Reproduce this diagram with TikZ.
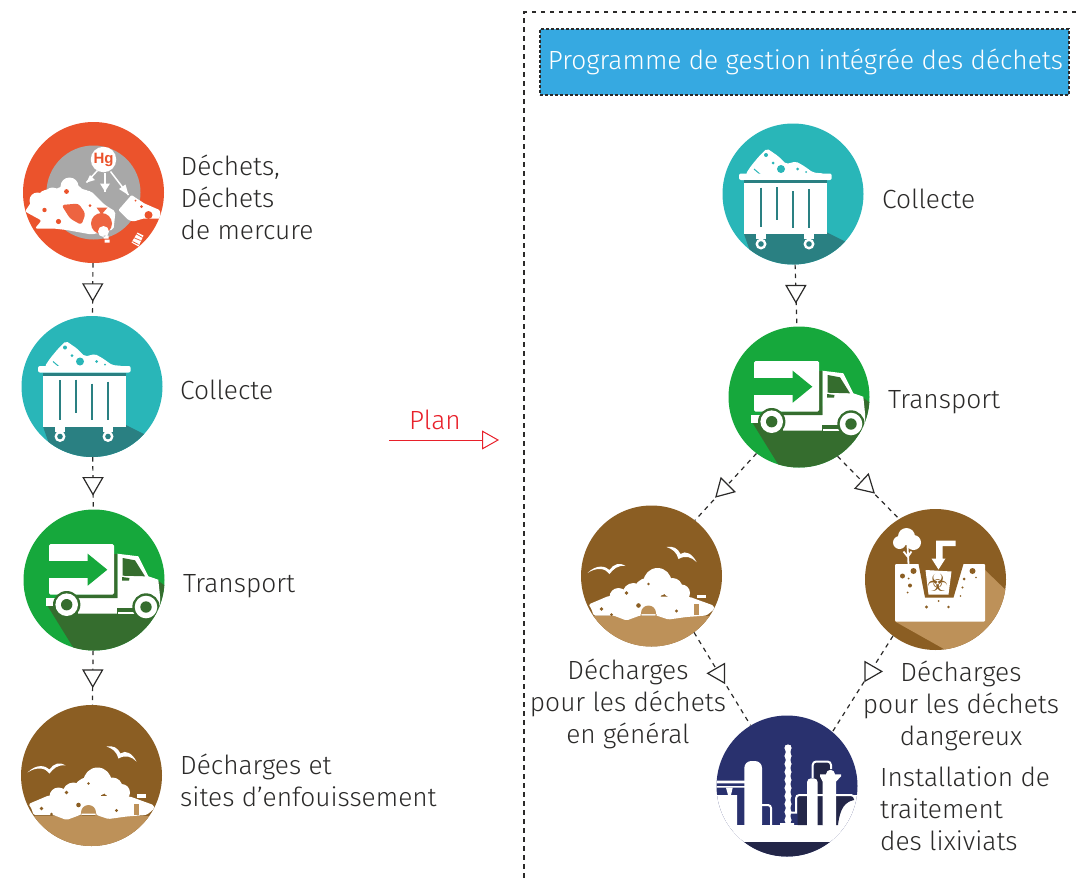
\documentclass[tikz,border=0pt]{standalone}
\usepackage{fontspec}
\setmainfont{Fira Sans}[UprightFont=* Light]
\newfontfamily\symbfont{DejaVu Sans}
\newfontfamily\hgfont{Liberation Sans}
\usetikzlibrary{arrows.meta,shapes.geometric}
\definecolor{ink}{HTML}{2B2A29}
\definecolor{mercred}{HTML}{EB532C}
\definecolor{mercgray}{HTML}{A8A8A8}
\definecolor{binteal}{HTML}{29B6B8}
\definecolor{bindark}{HTML}{2A8082}
\definecolor{truckgreen}{HTML}{16A83C}
\definecolor{truckdark}{HTML}{356D2E}
\definecolor{dumpbrown}{HTML}{8B5E23}
\definecolor{dumptan}{HTML}{BD9159}
\definecolor{plantnavy}{HTML}{29316E}
\definecolor{plantdark}{HTML}{232648}
\definecolor{titleblue}{HTML}{36A9E1}
\definecolor{planred}{HTML}{E8202A}
\tikzset{
  icon/.style={circle,minimum size=141pt,inner sep=0pt},
  lbl/.style={font=\fontsize{26.3}{32}\selectfont,text=ink,inner sep=0pt},
  flow/.style={draw=ink,line width=1.2pt,dash pattern=on 4.5pt off 4.5pt},
  tip/.style={regular polygon,regular polygon sides=3,minimum size=22.5pt,inner sep=0pt,draw=ink,fill=white,line width=1.2pt,solid},
  pics/binicon/.style={code={
    \clip (0,0) circle (70.5);
    \fill[bindark] (-49,40) -- (-42,60) -- (-30,90) -- (70,90) -- (53,48) -- (33,38) -- cycle;
    \fill[white,rounded corners=2pt] (-47,-20.5) -- (-42,-28) -- (-33.7,-38) -- (-26,-45.5) -- (-15,-38) -- (-7,-30) -- (3,-32.5) -- (11,-28) -- (20,-21.5) -- (31,-20.5) -- (31,-16) -- (-47,-16) -- cycle;
    \fill[binteal] (-12,-25) circle (4) (-27,-39) circle (2) (-20,-31) circle (1.5) (4.7,-25) circle (1.5) (13,-22) circle (1);
    \draw[binteal,line width=1pt] (-39,-25) -- (-32,-19);
    \fill[white,rounded corners=2pt] (-54,-20.5) rectangle (38.7,-14);
    \fill[white] (-48.7,-13) rectangle (34,40);
    \fill[bindark] (-48.7,-14) rectangle (34,-11);
    \foreach \xpos/\ytop/\ybot in {-31.7/-6.5/33,-16/-7/26,0/-3/33.5,16/-5/33.5}
      \draw[bindark,line width=2pt] (\xpos,\ytop) -- (\xpos,\ybot);
    \foreach \xpos in {-32,16} {
      \fill[white] (\xpos-5,40) rectangle (\xpos+5,45);
      \fill[white] (\xpos,50) circle (5.5);
      \fill[bindark] (\xpos,50) circle (2.8);
    }
  }},
  pics/truckicon/.style={code={
    \clip (0,0) circle (70.5);
    \fill[truckdark] (-47,25) -- (-18,72) -- (80,72) -- (80,12) -- (63,0) -- (20,10) -- cycle;
    \fill[white] (23.3,-26.3) -- (44.3,-23.7) -- (54.3,-3.7) -- (64.3,-0.3) -- (66,16) -- (66,30) -- (60,33.5) -- (-16,33.5) -- (-16,18) -- (23.3,18) -- cycle;
    \fill[white] (-48,18) rectangle (-39,26);
    \fill[truckdark] (-17,14.7) rectangle (23.3,18) (20,-26) rectangle (23.3,18);
    \fill[white,rounded corners=1.5pt] (-45,-36) rectangle (20,14.7);
    \fill[truckgreen] (-45,-18.7) rectangle (-6.3,-2);
    \fill[truckgreen] (-6.3,-26.3) -- (13.3,-10.3) -- (-6.3,5.7) -- cycle;
    \fill[truckdark] (28.7,-22) -- (41,-19.7) -- (51,-3.7) -- (28.7,-4.3) -- cycle;
    \fill[truckdark] (28,-3) -- (35.5,-2) -- (35,0.7) -- (28,0.7) -- cycle;
    \fill[truckdark] (23,28) rectangle (44.5,36);
    \fill[white] (23.5,31.7) rectangle (42,34.3);
    \foreach \xpos/\ypos in {-27.3/24.7,52/27} {
      \fill[truckdark] (\xpos,\ypos) circle (13.7);
      \fill[white] (\xpos,\ypos) circle (11.3);
      \fill[truckdark] (\xpos,\ypos) circle (5.7);
    }
  }},
  pics/dumpicon/.style={code={
    \clip (0,0) circle (70.5);
    \fill[dumptan] (-70,40) rectangle (70,72);
    \fill[white,rounded corners=1.5pt] (-63,28.5) -- (-43,20) -- (38.5,21) -- (62,29.5) -- (63,33) -- (55,39.5) -- (35,41) -- (17,43.5) -- (5,39.5) -- (-11.5,39.5) -- (-25,44.5) -- (-38,39.5) -- (-58,39.5) -- (-60,33) -- cycle;
    \fill[white] (-33,21) circle (9) (-18,18) circle (11) (6,6) circle (14) (21,12) circle (10) (30,17) circle (8.5) (-4,16) circle (14);
    \fill[white] (45,18.5) rectangle (54,22);
    \fill[dumptan] (-3,37) circle (7.5) (-11,38) rectangle (5,44);
    \fill[dumpbrown] (-25,17) circle (1.8) (-3,8) circle (1.3) (-50,33) circle (1.8) (-40,38.5) circle (1.5) (-13,29.5) circle (2.3) (25,35) circle (1.7);
    \fill[dumptan] (42,28) rectangle (47,39);
    \fill[white] (-64,-3) .. controls (-55,-12) and (-46,-10) .. (-42,-6) .. controls (-38,-12) and (-32,-14) .. (-26,-10) .. controls (-34,-11) and (-38,-7) .. (-42,-2) .. controls (-46,-8) and (-55,-9) .. cycle;
    \fill[white] (15,-29) .. controls (22,-30) and (26,-28) .. (29,-22) .. controls (34,-26) and (41,-22) .. (45,-14) .. controls (40,-19) and (34,-21) .. (27,-17) .. controls (25,-24) and (21,-27) .. cycle;
  }},
  pics/mercicon/.style={code={
    \clip (0,0) circle (70.5);
    \fill[mercgray] (0,0) circle (47);
    \fill[white,rounded corners=2pt] (-68.5,19) -- (-60,6) -- (-50,-2.5) -- (-35,-4) -- (-23.5,-14) -- (-10,-2.5) -- (-2,-1) -- (11.5,12.5) -- (22,19) -- (20,37) -- (-2,42) -- (-27,37.5) -- (-40,36) -- (-58.5,36) -- (-52,28) -- cycle;
    \fill[white] (-56,8) circle (8) (-41,3) circle (8) (-24,-6) circle (9) (-10,4) circle (7);
    \fill[white,rounded corners=1pt] (25,17.5) -- (38,2.5) -- (51,11) -- (66,17.5) -- (68,26) -- (50,26) -- (40,29) -- (35,27.5) -- cycle;
    \fill[mercred!90!white,rounded corners=3pt] (-32,12.5) -- (-15,11) -- (-8,21) -- (-12,32.5) -- (-23.5,26) -- cycle;
    \fill[mercred!90!white] (8,31) circle (10.5) (8,22) -- (3,15) -- (14,15) -- cycle;
    \fill[mercred] (55,22.5) circle (4) (-27,-1) circle (2.4) (-49,17.5) circle (2.2) (-35,29) circle (2.6) (48,14) circle (1.5) (-3.5,13) circle (1.5) (42,8) circle (1);
    \fill[white] (10,39) circle (5.5) (10,43) rectangle (15,46) (11,47) rectangle (16,50);
    \fill[white] (38,50) -- (44,40) -- (50,43) -- (45,54) -- cycle;
    \draw[mercred,line width=.7pt] (40,45) -- (47,48) (42,41) -- (49,45) (39,49) -- (45,52);
    \draw[white,line width=1.5pt] (4,-22) -- (-7,-10);
    \draw[white,line width=1.5pt] (11.5,-20) -- (11.5,-1);
    \draw[white,line width=1.5pt] (17,-21) -- (35,2.5);
    \fill[white] (-7,-10) -- (-3.5,-17.5) -- (1.5,-12.5) -- cycle (11.5,-1) -- (6.5,-9) -- (16.5,-9) -- cycle (35,2.5) -- (25.5,-3.5) -- (32,-8) -- cycle;
    \node[circle,fill=white,minimum size=25.5pt,inner sep=0pt,text=mercred,font=\hgfont\bfseries\fontsize{15}{15}\selectfont] (hg) at (10,-33) {Hg};
  }},
  pics/hazicon/.style={code={
    \clip (0,0) circle (70.5);
    \fill[dumptan] (-40.5,42) -- (20,76) -- (80,80) -- (80,20) -- (49.5,-9.5) -- cycle;
    \fill[white,rounded corners=1pt] (-40.5,-15.5) rectangle (49.5,42);
    \fill[dumpbrown] (-17,-15.6) -- (-10.5,18) -- (18,18) -- (28,-15.6) -- cycle;
    \fill[white] (-10,-9.5) -- (16,-8) -- (13,15) -- (-7,15) -- cycle;
    \node[text=dumpbrown,inner sep=0pt,font=\symbfont\fontsize{24}{24}\selectfont] (biohaz) at (2,3) {☣};
    \foreach \xpos/\ypos/\rad in {-22/-8.5/3,-33/-3.5/2.5,-25.5/6/2,37/-8.5/3,28.5/-0.5/1.5,27/8/1.2,-9/27.5/1.7,13/27.5/1.3,3/21.5/1,-28/13/1,-27/-1/1,25/16.5/.8,40.5/-2/.8}
      \fill[dumpbrown] (\xpos,\ypos) circle (\rad);
    \fill[white] (-29,-43) circle (8.5) (-36,-37) circle (6.5) (-22,-37) circle (7.5);
    \draw[white,line width=1.8pt] (-28,-34) -- (-27,-15) (-32,-28) -- (-28,-23) (-24,-28) -- (-27.5,-23);
    \fill[white] (20,-39) -- (0.5,-39) -- (0.5,-21) -- (-4,-21) -- (3,-10) -- (10,-21) -- (7,-21) -- (7,-33.5) -- (20,-33.5) -- cycle;
  }},
  pics/planticon/.style={code={
    \clip (0,0) circle (70.5);
    \fill[plantdark] (-70,55.7) rectangle (70,72);
    \fill[white] (-70,39) rectangle (70,55.7);
    % left side
    \fill[white] (-71,9) rectangle (-50,39) (47,9) rectangle (72,39);
    \fill[white] (-71,-5.3) rectangle (-42,-2.7) (-71,0) rectangle (-42,1.7);
    \fill[white] (-61,1.7) -- (-54.3,1.7) -- (-56,9) -- (-59,9) -- cycle;
    \fill[white,rounded corners=7pt] (-42.7,45) -- (-42.7,-25) -- (-25,-25) -- (-25,45) -- cycle;
    \draw[white,line width=2pt] (-25,19) -- (-19,19) arc[start angle=-90,end angle=0,radius=3] -- (-16,39);
    % dark parts
    \fill[plantdark] (10.7,10) rectangle (20,39) (27.3,-23.3) rectangle (44,10) (30,10) rectangle (36,39);
    \fill[plantdark] (49,10) -- (67,10) -- (67,14) .. controls (58,16) and (53,22) .. (51,39) -- (49,39) -- cycle;
    % tower
    \foreach \ypos in {-38,-30,...,36}
      \fill[white] (1,\ypos) circle (3.6);
    \fill[white] (-1.5,-41) rectangle (3.5,39) (-7,37) rectangle (7,39);
    \draw[white,line width=2pt] (4,26.7) -- (9,26.7) -- (9,12.3) arc[start angle=-180,end angle=-90,radius=3.3] -- (64,9) arc[start angle=-90,end angle=0,radius=4];
    \fill[white,rounded corners=4pt] (20,45) -- (20,-7.7) -- (30.7,-7.7) -- (30.7,45) -- cycle;
    \draw[white,line width=2pt] (25.7,-8) -- (25.7,-21) arc[start angle=-180,end angle=-90,radius=3.5] -- (40.5,-24.5) arc[start angle=-90,end angle=0,radius=3.5] -- (44,-17);
    \fill[white] (39,-11.7) arc[start angle=-180,end angle=0,radius=4.5] -- (54,-11.7) -- (54,-9.7) -- (49,-4.3) -- (49,39) -- (35.7,39) -- (35.7,-4.3) -- (33,-9.7) -- (33,-11.7) -- cycle;
  }}
}
\begin{document}
\begin{tikzpicture}[x=1pt,y=-1pt]
\useasboundingbox (0,0) rectangle (1080,881);
% left column
\node[icon,fill=mercred] (mercl) at (93.5,192.5) {};
\node[icon,fill=binteal] (binl) at (92,386.5) {};
\node[icon,fill=truckgreen] (truckl) at (94,580) {};
\node[icon,fill=dumpbrown] (dumpl) at (91.5,775.5) {};
\pic at (mercl) {mercicon};
\pic at (binl) {binicon};
\pic at (truckl) {truckicon};
\pic at (dumpl) {dumpicon};
\draw[flow] (mercl) -- node[tip,rotate=180] (tipa) {} (binl);
\draw[flow] (binl) -- node[tip,rotate=180] (tipb) {} (truckl);
\draw[flow] (truckl) -- node[tip,rotate=180,pos=.46] (tipc) {} (dumpl);
\node[lbl,anchor=west,align=left] (lmerc) at (180.5,197.5) {Déchets,\\Déchets\\de mercure};
\node[lbl,anchor=west] (lbinl) at (180,390) {Collecte};
\node[lbl,anchor=west] (ltruckl) at (183,586.5) {Transport};
\node[lbl,anchor=west,align=left] (ldumpl) at (180,780) {Décharges et\\sites d’enfouissement};
% plan arrow
\node[font=\fontsize{26.3}{30}\selectfont,text=planred,inner sep=0pt] (plantext) at (435,420) {Plan};
\coordinate (plana) at (389,440);
\coordinate (planb) at (499,440);
\draw[planred,line width=1pt,-{Triangle[open,length=17pt,width=19pt]}] (plana) -- (planb);
% right frame
\draw[flow] (1085,12) -- (524,12) -- (524,886);
\node[draw=ink,dash pattern=on 3pt off 2pt,line width=1.3pt,fill=titleblue,text=white,font=\fontsize{26.3}{30}\selectfont,minimum width=529pt,minimum height=66pt,inner sep=0pt] (title) at (804.5,62) {\hspace{2pt}Programme de gestion intégrée des déchets};
% right part
\node[icon,fill=binteal] (binr) at (793,194) {};
\node[icon,fill=truckgreen] (truckr) at (799,397) {};
\node[icon,fill=dumpbrown] (dumpr) at (651.5,576) {};
\node[icon,fill=dumpbrown] (haz) at (935.5,579.5) {};
\node[icon,fill=plantnavy] (plant) at (787,786) {};
\pic at (binr) {binicon};
\pic at (truckr) {truckicon};
\pic at (dumpr) {dumpicon};
\pic at (haz) {hazicon};
\pic at (plant) {planticon};
\draw[flow] (binr) -- node[tip,rotate=180,pos=.43] (tipd) {} (truckr);
\draw[flow] (truckr.-127) -- node[tip,rotate=135,pos=.53] (tipe) {} (dumpr.52.6);
\draw[flow] (truckr.-57) -- node[tip,rotate=-133,pos=.46] (tipf) {} (haz.121.6);
\draw[flow] (dumpr.-53) -- node[tip,rotate=90,pos=.44] (tipg) {} (plant.121);
\draw[flow] (haz.-127) -- node[tip,rotate=-90,pos=.37] (tiph) {} (plant.50);
\node[lbl,anchor=west] (lbinr) at (882,199) {Collecte};
\node[lbl,anchor=west] (ltruckr) at (888,402.5) {Transport};
\node[lbl,align=center] (ldumpr) at (628,704) {Décharges\\pour les déchets\\en général};
\node[lbl,align=center] (lhaz) at (961,706) {Décharges\\pour les déchets\\dangereux};
\node[lbl,anchor=west,align=left] (lplant) at (880,809) {Installation de\\traitement\\des lixiviats};
\end{tikzpicture}
\end{document}
